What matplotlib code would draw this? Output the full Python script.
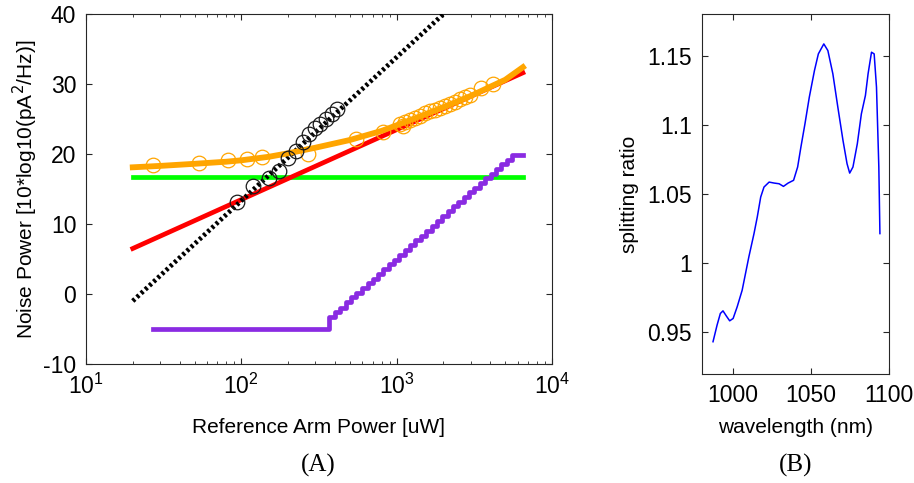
import numpy as np
import matplotlib
matplotlib.use("Agg")
import matplotlib.pyplot as plt

plt.rcParams['font.family'] = ['Liberation Sans', 'DejaVu Sans']
plt.rcParams['axes.unicode_minus'] = False

# ── panel A: noise power vs reference arm power ──
red_x = [20, 6500]
red_y = [6.5, 31.6]
black_x = [20, 2000]
black_y = [-1.0, 40.0]
green_x = [20, 6500]
green_y = [16.7, 16.7]

orange_x = [20, 30, 50, 80, 100, 150, 200, 300, 500, 800, 1000, 1500, 2000,
            3000, 4000, 5000, 6500]
orange_y = [18.1, 18.3, 18.6, 18.9, 19.1, 19.6, 20.1, 20.9, 22.0, 23.3, 24.1,
            25.6, 26.7, 28.3, 29.6, 30.6, 32.4]

orange_pts_x = [27, 53, 82, 109, 135, 270, 550, 815, 1100,
                1052, 1133, 1219, 1312, 1415, 1523, 1641, 1766, 1905, 2050,
                2208, 2378, 2561, 2757, 2970, 3470, 4170]
orange_pts_y = [18.4, 18.7, 19.1, 19.3, 19.6, 20.0, 22.1, 23.1, 24.0,
                24.3, 24.6, 24.9, 25.2, 25.5, 25.8, 26.1, 26.3, 26.6, 26.9,
                27.2, 27.5, 27.8, 28.1, 28.4, 29.4, 30.0]

black_pts_x = [94, 119, 151, 175, 200, 225, 250, 273, 298, 321, 351, 384, 413]
black_pts_y = [13.1, 15.4, 16.6, 17.6, 19.4, 20.4, 21.7, 22.9, 23.7, 24.3,
               25.0, 25.7, 26.4]

purple_x = [27, 365, 400, 430, 470, 510, 550, 600, 650, 700, 760, 820, 890,
            960, 1040, 1130, 1220, 1320, 1430, 1550, 1680, 1820, 1970, 2130,
            2310, 2500, 2710, 2930, 3170, 3440, 3720, 4030, 4360, 4720, 5110,
            5530, 6500]
purple_y = [-5.0, -3.3, -2.6, -2.0, -1.2, -0.5, 0.1, 0.9, 1.6, 2.2, 2.9, 3.6,
            4.3, 4.9, 5.6, 6.3, 7.0, 7.7, 8.3, 9.0, 9.7, 10.4, 11.1, 11.8,
            12.5, 13.2, 13.9, 14.5, 15.2, 15.9, 16.6, 17.2, 17.9, 18.5, 19.2,
            19.8, 19.8]

# ── panel B: splitting ratio vs wavelength ──
wl = [987.1, 989.7, 991.8, 993.5, 995.7, 997.8, 1000.0, 1002.6, 1005.8,
      1010.1, 1013.4, 1015.5, 1017.7, 1019.8, 1023.1, 1026.3, 1029.5, 1032.3,
      1035.3, 1038.8, 1041.4, 1043.5, 1046.1, 1048.9, 1052.2, 1054.7, 1058.2,
      1060.8, 1064.0, 1067.2, 1070.5, 1073.1, 1074.8, 1076.9, 1079.7, 1082.3,
      1084.9, 1086.6, 1088.8, 1090.5, 1092.0, 1093.5, 1094.2]
ratio = [0.9433, 0.9553, 0.9637, 0.9656, 0.9618, 0.9584, 0.9601, 0.9685,
         0.9805, 1.0046, 1.0214, 1.0334, 1.0478, 1.0550, 1.0586, 1.0579,
         1.0574, 1.0555, 1.0579, 1.0599, 1.0695, 1.0839, 1.1007, 1.1200,
         1.1392, 1.1512, 1.1584, 1.1536, 1.1368, 1.1127, 1.0887, 1.0719,
         1.0651, 1.0695, 1.0863, 1.1079, 1.1212, 1.1368, 1.1524, 1.1512,
         1.1272, 1.0695, 1.0214]

fig = plt.figure(figsize=(9.14, 4.83), dpi=100)
axA = fig.add_axes([0.0941, 0.2464, 0.5098, 0.7246])
axB = fig.add_axes([0.768, 0.2257, 0.2046, 0.7453])

axA.plot(black_x, black_y, color="k", lw=3.4, ls=(0, (0.6, 0.6)), zorder=3)
axA.plot(green_x, green_y, color="#00ff00", lw=3.4, zorder=2)
axA.plot(red_x, red_y, color="#ff0000", lw=3.4, zorder=2)
axA.plot(orange_x, orange_y, color="#ffa500", lw=4.2, zorder=4)
axA.plot(orange_pts_x, orange_pts_y, ls="none", marker="o", ms=10.5,
         mfc="none", mec="#ffa500", mew=0.9, zorder=5)
axA.plot(black_pts_x, black_pts_y, ls="none", marker="o", ms=10.5,
         mfc="none", mec="#1a1a1a", mew=0.9, zorder=5)
axA.plot(purple_x, purple_y, color="#8a2be2", lw=3.4, drawstyle="steps-post",
         zorder=3)

axA.set_xscale("log")
axA.set_xlim(10, 1e4)
axA.set_ylim(-10, 40)
axA.set_yticks([-10, 0, 10, 20, 30, 40])
axA.set_xlabel("Reference Arm Power [uW]", fontsize=15, labelpad=14)
axA.set_ylabel("Noise Power [10*log10(pA$^2$/Hz)]", fontsize=15, labelpad=2)

axB.plot(wl, ratio, color="#0000ff", lw=1.1)
axB.set_xlim(980, 1100)
axB.set_ylim(0.92, 1.18)
axB.set_xticks([1000, 1050, 1100])
axB.set_yticks([0.95, 1.0, 1.05, 1.1, 1.15])
axB.set_yticklabels(["0.95", "1", "1.05", "1.1", "1.15"])
axB.set_xlabel("wavelength (nm)", fontsize=15, labelpad=8)
axB.set_ylabel("splitting ratio", fontsize=15, labelpad=6)

for ax in (axA, axB):
    for s in ax.spines.values():
        s.set_color("#262626")
        s.set_linewidth(0.8)
    ax.tick_params(which="both", direction="in", top=True, right=True,
                   labelsize=16.5, color="#262626", pad=7)
    ax.tick_params(which="major", length=4)
    ax.tick_params(which="minor", length=2.5)

fig.text(0.348, 0.036, "(A)", family=["Liberation Serif"], fontsize=18,
         ha="center", va="center")
fig.text(0.870, 0.036, "(B)", family=["Liberation Serif"], fontsize=18,
         ha="center", va="center")

fig.savefig("out.png", dpi=100)
